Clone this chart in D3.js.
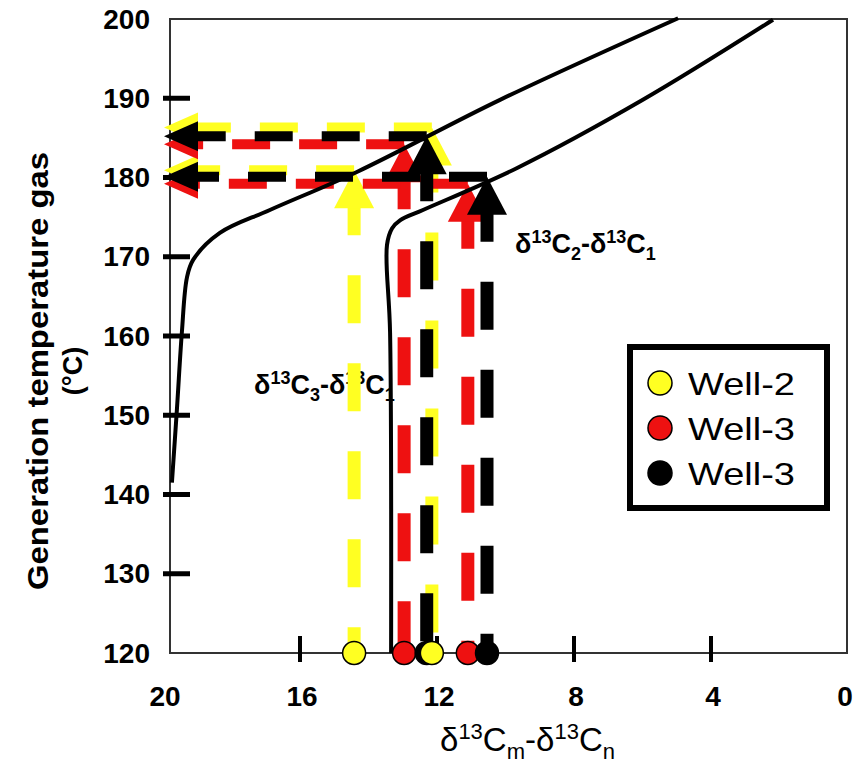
<!DOCTYPE html>
<html>
<head>
<meta charset="utf-8">
<script src="https://cdn.jsdelivr.net/npm/d3@7"></script>
<style>
  body { margin: 0; background: #fff; }
  svg { display: block; font-family: "Liberation Sans", Arial, sans-serif; }
</style>
</head>
<body>
<svg id="chart" width="854" height="767"></svg>
<script>
// axis ticks
const xTicks = [20, 16, 12, 8, 4, 0];
const yTicks = [120, 130, 140, 150, 160, 170, 180, 190, 200];
const yTickMarks = [130, 140, 150, 160, 170, 180, 190];
const xTickMarks = [16, 12, 8, 4];

// calibration curves (dC vs temperature)
const c3c1X = [19.74, 19.59, 19.45, 19.30, 19.12, 18.34, 16.88, 14.34, 10.16, 4.96];
const c3c1T = [141.5, 151.0, 160.4, 167.4, 169.6, 173.0, 175.9, 180.7, 189.8, 200.1];
const c2c1X = [13.34, 13.37, 13.46, 13.31, 13.08, 12.41, 9.66, 5.99, 2.19];
const c2c1T = [120.0, 160.4, 171.5, 173.6, 174.6, 175.9, 181.2, 189.8, 199.9];

// wells + samples
const wells = ["Well-2", "Well-3", "Well-3"];
const wellColors = ["#ffff22", "#ee1111", "#000000"];
const sampleWell = [0, 0, 1, 1, 2, 2];
const sampleX = [14.42, 12.15, 12.96, 11.10, 12.30, 10.54];
const sampleT = [180.9, 186.3, 184.2, 179.2, 185.2, 180.1];

const svg = d3.select("#chart");
const x = d3.scaleLinear().domain([20, 0]).range([163, 848]);
const y = d3.scaleLinear().domain([120, 200]).range([653, 19]);

const frameL = 170, frameR = 847, frameT = 19, frameB = 653;

// frame
svg.append("rect")
  .attr("x", frameL).attr("y", frameT)
  .attr("width", frameR - frameL).attr("height", frameB - frameT)
  .attr("fill", "none").attr("stroke", "#333").attr("stroke-width", 2);

// tick marks
svg.append("g").selectAll("line").data(yTickMarks).join("line")
  .attr("x1", 163).attr("x2", 190)
  .attr("y1", d => y(d)).attr("y2", d => y(d))
  .attr("stroke", "#000").attr("stroke-width", 5);

svg.append("g").selectAll("line").data(xTickMarks).join("line")
  .attr("x1", d => x(d)).attr("x2", d => x(d))
  .attr("y1", 636).attr("y2", 662)
  .attr("stroke", "#000").attr("stroke-width", 4);

// tick labels
svg.append("g").selectAll("text").data(yTicks).join("text")
  .attr("x", 150).attr("y", d => y(d))
  .attr("text-anchor", "end").attr("dominant-baseline", "central")
  .attr("font-size", 28).attr("font-weight", "bold")
  .text(d => d);

svg.append("g").selectAll("text").data(xTicks).join("text")
  .attr("x", d => Math.min(x(d) + 2, 845)).attr("y", 706)
  .attr("text-anchor", "middle")
  .attr("font-size", 28).attr("font-weight", "bold")
  .text(d => d);

// axis titles
svg.append("text")
  .attr("transform", "translate(48,371) rotate(-90)")
  .attr("text-anchor", "middle")
  .attr("font-size", 29).attr("font-weight", "bold")
  .attr("textLength", 438).attr("lengthAdjust", "spacingAndGlyphs")
  .text("Generation temperature gas");
svg.append("text")
  .attr("transform", "translate(82,371) rotate(-90)")
  .attr("text-anchor", "middle")
  .attr("font-size", 27).attr("font-weight", "bold")
  .text("(°C)");

function deltaLabel(g, px, py, size, sub1, sub2, weight) {
  const t = g.append("text").attr("x", px).attr("y", py)
    .attr("font-size", size).attr("font-weight", weight);
  const small = Math.round(size * 0.66);
  t.append("tspan").text("δ");
  t.append("tspan").attr("font-size", small).attr("dy", -size * 0.36).text("13");
  t.append("tspan").attr("dy", size * 0.36).text("C");
  t.append("tspan").attr("font-size", small).attr("dy", size * 0.25).text(sub1);
  t.append("tspan").attr("dy", -size * 0.25).text("-δ");
  t.append("tspan").attr("font-size", small).attr("dy", -size * 0.36).text("13");
  t.append("tspan").attr("dy", size * 0.36).text("C");
  t.append("tspan").attr("font-size", small).attr("dy", size * 0.25).text(sub2);
  return t;
}

deltaLabel(svg, 440, 751, 33, "m", "n", "normal");

// curve labels (under the arrows)
deltaLabel(svg, 254, 394, 27, "3", "1", "bold");
deltaLabel(svg, 515, 253, 27, "2", "1", "bold");

// arrows
const arrowBaseX = 196, arrowTipX = x(20) + 1;
const order = [0, 2, 1, 3, 4, 5];   // yellow, red, black
const arrowG = svg.append("g");
order.forEach(i => {
  const col = wellColors[sampleWell[i]];
  const px = x(sampleX[i]), py = y(sampleT[i]);
  const g = arrowG.append("g");
  // vertical dashed shaft from dot up to arrowhead
  g.append("line")
    .attr("x1", px).attr("x2", px)
    .attr("y1", py + 37).attr("y2", y(120))
    .attr("stroke", col).attr("stroke-width", 13)
    .attr("stroke-dasharray", "48,40").attr("stroke-dashoffset", 20);
  g.append("path")
    .attr("d", `M${px},${py} L${px - 20},${py + 38} L${px + 20},${py + 38} Z`)
    .attr("fill", col);
  // horizontal dashed shaft to the y axis
  g.append("line")
    .attr("x1", px).attr("x2", arrowBaseX)
    .attr("y1", py).attr("y2", py)
    .attr("stroke", col).attr("stroke-width", 10)
    .attr("stroke-dasharray", "38,29");
  g.append("path")
    .attr("d", `M${arrowTipX},${py} L${arrowBaseX + 2},${py - 15} L${arrowBaseX + 2},${py + 15} Z`)
    .attr("fill", col);
});

// curves
const line = d3.line().x(d => x(d[0])).y(d => y(d[1])).curve(d3.curveCatmullRom.alpha(0.5));
[[c3c1X, c3c1T], [c2c1X, c2c1T]].forEach(([xs, ts]) => {
  svg.append("path")
    .datum(xs.map((v, i) => [v, ts[i]]))
    .attr("d", line)
    .attr("fill", "none").attr("stroke", "#000").attr("stroke-width", 4);
});

// sample dots on the x axis
const dotIdx = d3.range(sampleX.length).sort((a, b) => sampleX[b] - sampleX[a]);
svg.append("g").selectAll("circle").data(dotIdx).join("circle")
  .attr("cx", i => x(sampleX[i])).attr("cy", y(120))
  .attr("r", 11.5)
  .attr("fill", i => wellColors[sampleWell[i]])
  .attr("stroke", "#000").attr("stroke-width", 1.5);

// legend
const lg = svg.append("g");
lg.append("rect")
  .attr("x", 630).attr("y", 347).attr("width", 197).attr("height", 161)
  .attr("fill", "#fff").attr("stroke", "#000").attr("stroke-width", 6);
wells.forEach((w, i) => {
  const cy = 383 + i * 45;
  lg.append("circle").attr("cx", 660).attr("cy", cy).attr("r", 12)
    .attr("fill", wellColors[i]).attr("stroke", "#000").attr("stroke-width", 1.5);
  lg.append("text").attr("x", 688).attr("y", cy + 12)
    .attr("font-size", 32)
    .attr("textLength", 107).attr("lengthAdjust", "spacingAndGlyphs")
    .text(w);
});
</script>
</body>
</html>
